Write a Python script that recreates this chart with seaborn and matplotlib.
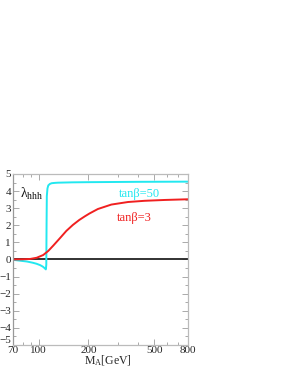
import matplotlib
matplotlib.use("Agg")
import matplotlib.pyplot as plt
import seaborn as sns
import pandas as pd
from matplotlib.ticker import FixedLocator, NullFormatter, MultipleLocator, FixedFormatter

# data
m_tb50 = [70, 77, 85, 92, 97, 102, 106, 109, 110.5, 111.2, 111.6, 112.0, 113.0, 114.3, 117.0, 120.0, 126.0, 131.0, 160.0, 200.0, 400.0, 800.0]
l_tb50 = [-0.02, -0.07, -0.12, -0.19, -0.25, -0.33, -0.42, -0.52, -0.58, -0.3, 2.0, 3.7, 4.15, 4.33, 4.42, 4.46, 4.48, 4.49, 4.51, 4.52, 4.54, 4.55]

m_tb3 = [70, 80, 88.8, 97.3, 106.5, 114.3, 122.5, 134.3, 147, 161, 176, 190, 203, 228, 275, 347, 437, 580, 800]
l_tb3 = [0.0, 0.01, 0.03, 0.1, 0.26, 0.5, 0.81, 1.24, 1.67, 2.02, 2.31, 2.52, 2.69, 2.95, 3.21, 3.36, 3.43, 3.48, 3.52]

xticks = [70, 100, 200, 500, 800]
xminor = [80, 90, 300, 400, 600, 700]
yticks = [-5, -4, -3, -2, -1, 0, 1, 2, 3, 4, 5]

sns.set_style("ticks")
plt.rcParams["font.family"] = ["Liberation Serif", "DejaVu Serif"]
plt.rcParams["mathtext.fontset"] = "stix"

fig = plt.figure(figsize=(2.84, 3.67), dpi=100)
ax = fig.add_axes([0.046, 0.060, 0.616, 0.466])

df50 = pd.DataFrame({"M": m_tb50, "lam": l_tb50})
df3 = pd.DataFrame({"M": m_tb3, "lam": l_tb3})

ax.axhline(0, color="#222222", lw=1.3, zorder=1)
sns.lineplot(data=df50, x="M", y="lam", ax=ax, color="#22e8f0", lw=1.4, sort=False)
sns.lineplot(data=df3, x="M", y="lam", ax=ax, color="#f02020", lw=1.4, sort=False)

ax.set_xscale("log")
ax.set_xlim(70, 800)
ax.set_ylim(-5, 5)
ax.xaxis.set_major_locator(FixedLocator(xticks))
ax.xaxis.set_major_formatter(FixedFormatter([str(v) for v in xticks]))
ax.xaxis.set_minor_locator(FixedLocator(xminor))
ax.xaxis.set_minor_formatter(NullFormatter())
ax.yaxis.set_major_locator(FixedLocator(yticks))
ax.yaxis.set_minor_locator(MultipleLocator(0.5))

for s in ax.spines.values():
    s.set_color("#bbbbbb")
    s.set_linewidth(0.9)
ax.spines["left"].set_color("#999999")

ax.tick_params(which="both", direction="in", top=True, right=True, color="#aaaaaa",
               labelsize=8, width=0.7)
ax.tick_params(axis="y", pad=1.5)
ax.tick_params(axis="x", pad=0.5)
ax.tick_params(which="major", length=4)
ax.tick_params(which="minor", length=2.5)
for lab in ax.get_yticklabels():
    if lab.get_text() in ("-5", "−5"):
        lab.set_va("bottom")

ax.set_xlabel(r"M$\mathregular{_A}$[GeV]", fontsize=8.5, labelpad=0, va="top")
ax.xaxis.set_label_coords(0.54, -0.052)
ax.set_ylabel("")

ax.text(0.04, 0.93, r"$\mathregular{λ_{hhh}}$", transform=ax.transAxes, fontsize=10,
        ha="left", va="top", color="#111111")
ax.text(0.605, 0.88, "tanβ=50", transform=ax.transAxes, fontsize=9,
        color="#22e8f0", ha="left", va="center")
ax.text(0.595, 0.742, "tanβ=3", transform=ax.transAxes, fontsize=9,
        color="#f02020", ha="left", va="center")

fig.savefig("out.png", dpi=100)
